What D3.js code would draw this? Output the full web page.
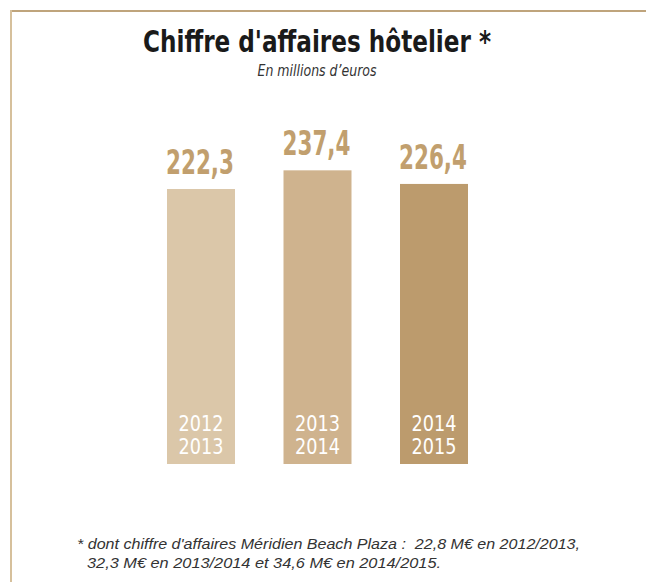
<!DOCTYPE html>
<html>
<head>
<meta charset="utf-8">
<script src="https://cdn.jsdelivr.net/npm/d3@7"></script>
<style>
  html, body { margin: 0; padding: 0; background: #fff; }
  svg { display: block; }
</style>
</head>
<body>
<svg id="chart" width="646" height="582"></svg>
<script>
// ---- Data ----
const periods = ["2012/2013", "2013/2014", "2014/2015"];
const periodLines = [["2012", "2013"], ["2013", "2014"], ["2014", "2015"]];
const revenue = [222.3, 237.4, 226.4];
const valueLabels = ["222,3", "237,4", "226,4"];
const barColors = ["#dbc7a9", "#cfb38e", "#bc9b6d"];

const title = "Chiffre d'affaires hôtelier *";
const subtitle = "En millions d’euros";
const footnoteLines = [
  "* dont chiffre d'affaires Méridien Beach Plaza :  22,8 M€ en 2012/2013,",
  "32,3 M€ en 2013/2014 et 34,6 M€ en 2014/2015."
];

// ---- Layout ----
const svg = d3.select("#chart");
const narrow = "'Liberation Sans Narrow', 'Arial Narrow', 'DejaVu Sans Condensed', sans-serif";
const sans = "'Liberation Sans', Arial, sans-serif";

// frame lines
svg.append("line").attr("x1", 10.5).attr("x2", 646).attr("y1", 11).attr("y2", 11)
  .attr("stroke", "#bfa47c").attr("stroke-width", 2);
svg.append("line").attr("x1", 11).attr("x2", 11).attr("y1", 10).attr("y2", 582)
  .attr("stroke", "#d6c09c").attr("stroke-width", 2);

const x = d3.scaleBand().domain(periods).range([167, 468]).paddingInner(0.4163).paddingOuter(0);
const y = d3.scaleLinear().domain([0, 250]).range([464, 464 - 250 * 1.237]);

// title
svg.append("text").attr("x", 317).attr("y", 52).attr("text-anchor", "middle")
  .attr("font-family", narrow).attr("font-weight", "bold").attr("font-size", 31)
  .attr("fill", "#1a1a1a")
  .attr("textLength", 348).attr("lengthAdjust", "spacingAndGlyphs")
  .text(title);

svg.append("text").attr("x", 317).attr("y", 76).attr("text-anchor", "middle")
  .attr("font-family", narrow).attr("font-style", "italic").attr("font-size", 15)
  .attr("fill", "#333")
  .attr("textLength", 119).attr("lengthAdjust", "spacingAndGlyphs")
  .text(subtitle);

// bars
const g = svg.append("g");
g.selectAll("rect.bar").data(periods).join("rect")
  .attr("class", "bar")
  .attr("x", d => x(d))
  .attr("width", x.bandwidth())
  .attr("y", (d, i) => y(revenue[i]))
  .attr("height", (d, i) => y(0) - y(revenue[i]))
  .attr("fill", (d, i) => barColors[i]);

// value labels
g.selectAll("text.val").data(periods).join("text")
  .attr("class", "val")
  .attr("x", d => x(d) + x.bandwidth() / 2 - 1)
  .attr("y", (d, i) => y(revenue[i]) - 15)
  .attr("text-anchor", "middle")
  .attr("font-family", narrow).attr("font-weight", "bold").attr("font-size", 33)
  .attr("fill", "#c19f6e")
  .attr("textLength", 68).attr("lengthAdjust", "spacingAndGlyphs")
  .text((d, i) => valueLabels[i]);

// year labels inside bars
periods.forEach((p, i) => {
  periodLines[i].forEach((t, j) => {
    g.append("text")
      .attr("x", x(p) + x.bandwidth() / 2)
      .attr("y", y(0) - 33 + j * 23)
      .attr("text-anchor", "middle")
      .attr("font-family", narrow).attr("font-size", 21)
      .attr("fill", "#ffffff")
      .attr("textLength", 45).attr("lengthAdjust", "spacingAndGlyphs")
      .text(t);
  });
});

// footnote
svg.append("text").attr("x", 77).attr("y", 549)
  .style("white-space", "pre")
  .attr("font-family", sans).attr("font-style", "italic").attr("font-size", 14.5)
  .attr("fill", "#333")
  .attr("textLength", 503).attr("lengthAdjust", "spacingAndGlyphs")
  .text(footnoteLines[0]);
svg.append("text").attr("x", 87).attr("y", 568)
  .attr("font-family", sans).attr("font-style", "italic").attr("font-size", 14.5)
  .attr("fill", "#333")
  .attr("textLength", 354).attr("lengthAdjust", "spacingAndGlyphs")
  .text(footnoteLines[1]);
</script>
</body>
</html>
